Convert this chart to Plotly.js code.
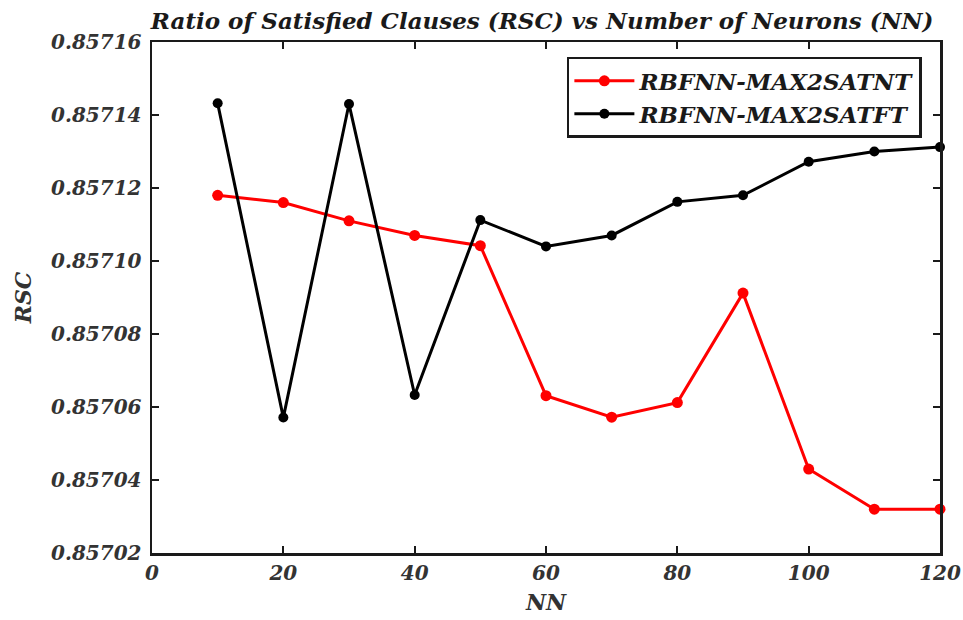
<!DOCTYPE html>
<html>
<head>
<meta charset="utf-8">
<script src="https://cdn.plot.ly/plotly-3.0.1.min.js"></script>
<style>html,body{margin:0;padding:0;background:#fff;}#chart{width:963px;height:620px;}</style>
</head>
<body>
<div id="chart"></div>
<script>
const neurons = [10, 20, 30, 40, 50, 60, 70, 80, 90, 100, 110, 120];
const rscNT = [0.857118, 0.857116, 0.857111, 0.857107, 0.8571042, 0.8570631, 0.8570572, 0.8570612, 0.8570912, 0.857043, 0.857032, 0.857032];
const rscFT = [0.8571432, 0.8570571, 0.857143, 0.8570633, 0.8571112, 0.857104, 0.857107, 0.8571162, 0.857118, 0.8571272, 0.85713, 0.8571312];
const seriesNames = ['RBFNN-MAX2SATNT', 'RBFNN-MAX2SATFT'];
const yTicks = [0.85702, 0.85704, 0.85706, 0.85708, 0.85710, 0.85712, 0.85714, 0.85716];
const xTicks = [0, 20, 40, 60, 80, 100, 120];

const fontFam = 'DejaVu Serif, serif';

const traces = [
  {x: neurons, y: rscNT, name: seriesNames[0], type: 'scatter', mode: 'lines+markers',
   line: {color: '#ff0000', width: 3}, marker: {color: '#ff0000', size: 11}, cliponaxis: false},
  {x: neurons, y: rscFT, name: seriesNames[1], type: 'scatter', mode: 'lines+markers',
   line: {color: '#000000', width: 3}, marker: {color: '#000000', size: 10}, cliponaxis: false}
];

const axisCommon = {
  showline: true, linecolor: '#1a1a1a', linewidth: 2.5, mirror: 'ticks',
  ticks: 'inside', ticklen: 7, tickwidth: 2, tickcolor: '#1a1a1a',
  showgrid: false, zeroline: false,
  tickfont: {family: fontFam, size: 20, color: '#333333', weight: 'bold', style: 'italic'}
};

const layout = {
  width: 963, height: 620,
  margin: {l: 152, r: 23, t: 42, b: 67},
  paper_bgcolor: '#fff', plot_bgcolor: '#fff',
  title: {text: 'Ratio of Satisfied Clauses (RSC) vs Number of Neurons (NN)',
          font: {family: fontFam, size: 23, color: '#1a1a1a', weight: 'bold', style: 'italic'},
          x: 0.563, xanchor: 'center', y: 0.967, yanchor: 'middle'},
  xaxis: Object.assign({}, axisCommon, {
    range: [0, 120], tickvals: xTicks, ticktext: xTicks.map(String),
    title: {text: 'NN', standoff: 11, font: {family: fontFam, size: 22, color: '#333333', weight: 'bold', style: 'italic'}}
  }),
  yaxis: Object.assign({}, axisCommon, {
    range: [0.85702, 0.85716], tickvals: yTicks, ticktext: yTicks.map(v => v.toFixed(5)),
    ticklabelstandoff: 4,
    title: {text: 'RSC', standoff: 14, font: {family: fontFam, size: 22, color: '#333333', weight: 'bold', style: 'italic'}}
  }),
  showlegend: true,
  legend: {x: 0.977, xanchor: 'right', y: 0.971, yanchor: 'top',
           bgcolor: '#fff', bordercolor: '#1a1a1a', borderwidth: 2.5,
           font: {family: fontFam, size: 23, color: '#1a1a1a', weight: 'bold', style: 'italic'},
           itemwidth: 60, tracegroupgap: 0}
};

Plotly.newPlot('chart', traces, layout, {displayModeBar: false, staticPlot: true});
</script>
</body>
</html>
